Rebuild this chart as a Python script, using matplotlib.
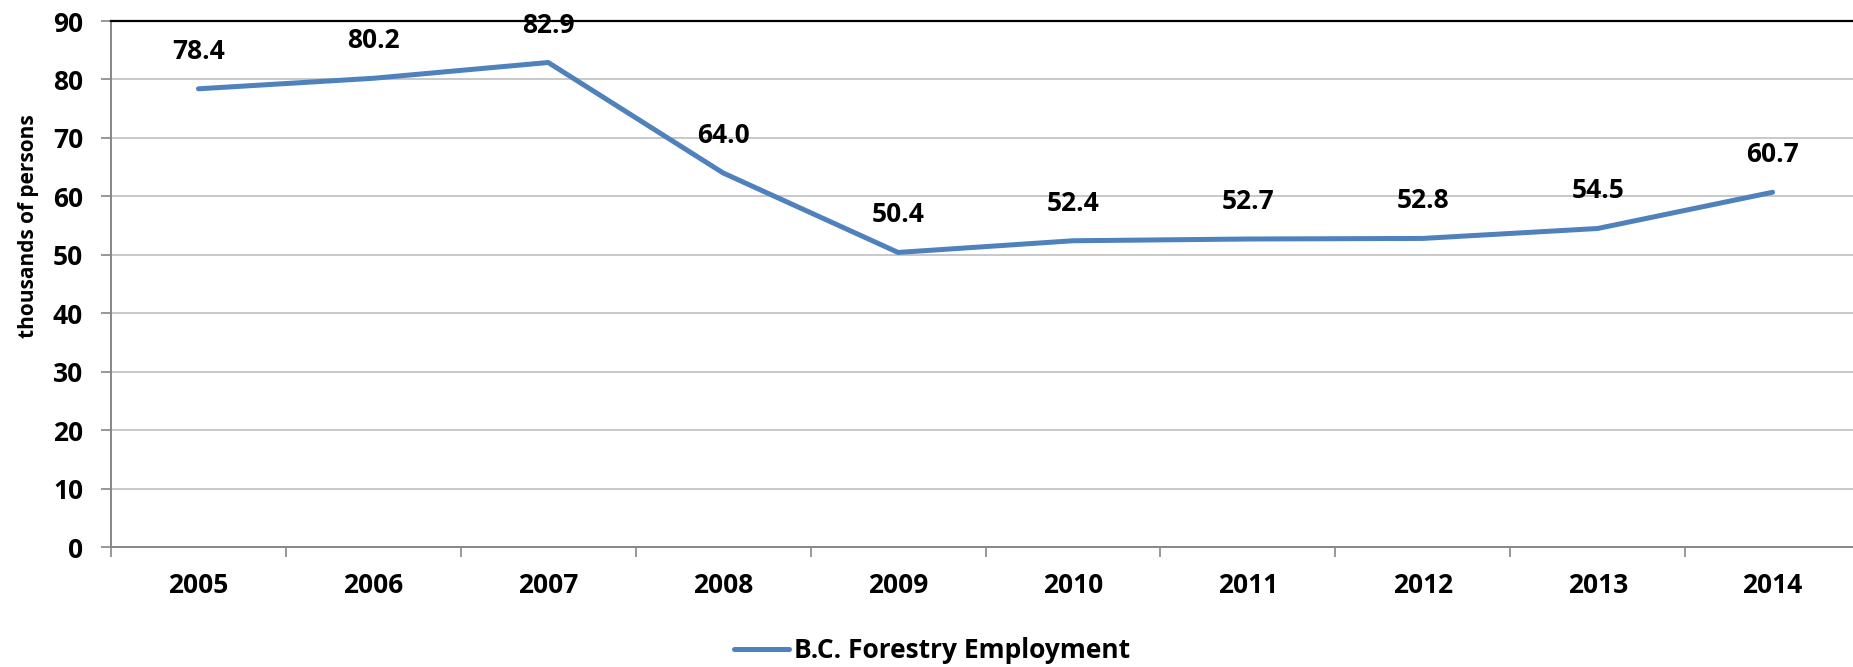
import matplotlib.pyplot as plt
from matplotlib.ticker import FixedLocator, NullFormatter

years = ["2005", "2006", "2007", "2008", "2009", "2010", "2011", "2012", "2013", "2014"]
employment = [78.4, 80.2, 82.9, 64.0, 50.4, 52.4, 52.7, 52.8, 54.5, 60.7]
y_ticks = [0, 10, 20, 30, 40, 50, 60, 70, 80, 90]

LINE_COLOR = "#4F81BD"
GRID_COLOR = "#BFBFBF"
AXIS_COLOR = "#868686"

plt.rcParams['font.family'] = ['Open Sans', 'DejaVu Sans']
plt.rcParams['font.weight'] = 'bold'

fig = plt.figure(figsize=(18.53, 6.67), dpi=100)
ax = fig.add_axes([0.0599, 0.1799, 0.9439, 0.7886])

x = list(range(len(years)))
ax.plot(x, employment, color=LINE_COLOR, linewidth=3.6, solid_capstyle='round',
        label="B.C. Forestry Employment")

for xi, v in zip(x, employment):
    ax.annotate(f"{v:.1f}", (xi, v), xytext=(0, 27), textcoords='offset points',
                ha='center', va='center', fontsize=19, fontweight='bold')

ax.set_xlim(-0.5, len(years) - 0.5)
ax.set_ylim(0, 90)
ax.set_yticks(y_ticks)
ax.set_yticklabels([str(t) for t in y_ticks])

# category boundaries get the tick marks, labels sit at the centres
ax.xaxis.set_major_locator(FixedLocator([i - 0.5 for i in range(len(years) + 1)]))
ax.xaxis.set_major_formatter(NullFormatter())
ax.xaxis.set_minor_locator(FixedLocator(x))
ax.set_xticklabels(years, minor=True)
ax.tick_params(axis='x', which='major', direction='out', length=7, width=1.2, color=AXIS_COLOR)
ax.tick_params(axis='x', which='minor', length=0, pad=18, labelsize=19)
ax.tick_params(axis='y', direction='out', length=7, width=1.2, color=AXIS_COLOR,
               pad=13, labelsize=19)

ax.grid(axis='y', color=GRID_COLOR, linewidth=1.2)
ax.set_axisbelow(True)

ax.spines['left'].set_color(AXIS_COLOR)
ax.spines['left'].set_linewidth(1.4)
ax.spines['bottom'].set_color(AXIS_COLOR)
ax.spines['bottom'].set_linewidth(1.4)
ax.spines['top'].set_color('black')
ax.spines['top'].set_linewidth(1.6)
ax.spines['right'].set_visible(False)

ax.set_ylabel("thousands of persons", fontsize=15, fontweight='bold')
ax.yaxis.set_label_coords(-0.041, 0.61)

fig.legend(loc='center', bbox_to_anchor=(0.503, 0.024), frameon=False,
           prop={'size': 19, 'weight': 'bold'}, handlelength=2.1, handletextpad=0.2)

fig.savefig("out.png", dpi=100)
